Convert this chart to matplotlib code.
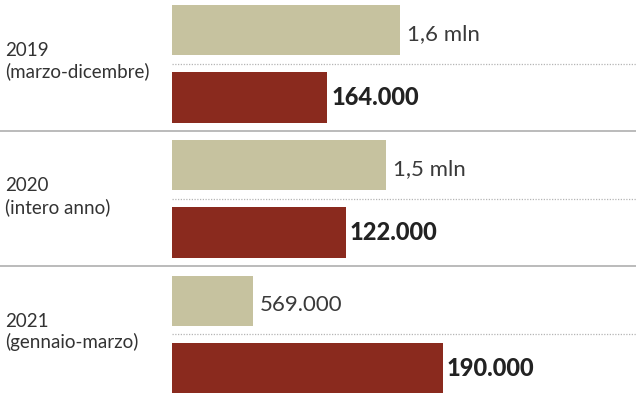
import matplotlib
matplotlib.use('Agg')
import matplotlib.pyplot as plt
from matplotlib.transforms import blended_transform_factory

periods = ["2019", "2020", "2021"]
spans = ["(marzo-dicembre)", "(intero anno)", "(gennaio-marzo)"]
beige_values = [1.6, 1.5, 0.569]          # milioni
beige_labels = ["1,6 mln", "1,5 mln", "569.000"]
# the red bars are not drawn to the same scale as their labels in the source,
# so keep the drawn lengths (same units as beige) next to the printed values
red_values = [1.09, 1.22, 1.90]
red_labels = ["164.000", "122.000", "190.000"]

BEIGE = "#c6c29f"
RED = "#8a2a1e"

plt.rcParams['font.family'] = ['Lato', 'DejaVu Sans']

fig = plt.figure(figsize=(6.36, 3.93), dpi=100)
ax = fig.add_axes([0, 0, 1, 1])
px = 142.5  # pixels per unit on x
ax.set_xlim(-172 / px, 464 / px)
ax.set_ylim(393, 0)
ax.axis('off')

pitch = 135.3
beige_y = [30 + pitch * i for i in range(3)]
red_y = [97.5 + pitch * i for i in range(3)]
dot_y = [63.5 + pitch * i for i in range(3)]

ax.barh(beige_y, beige_values, height=50, color=BEIGE)
ax.barh(red_y, red_values, height=51, color=RED)

tr = blended_transform_factory(fig.transFigure, ax.transData)
for i in range(3):
    ax.plot([0, 464 / px], [dot_y[i], dot_y[i]], color="#b5b5b5", lw=0.9,
            ls=(0, (1, 1.2)))
    if i < 2:
        y = 131 + pitch * i
        ax.plot([-172 / px, 464 / px], [y, y], color="#a8a8a8", lw=1.1)

    ax.annotate(beige_labels[i], (beige_values[i], beige_y[i] + 4),
                xytext=(5, 0), textcoords='offset points', va='center',
                ha='left', fontsize=16, color="#3a3a3a")
    ax.annotate(red_labels[i], (red_values[i], red_y[i]),
                xytext=(3, 0), textcoords='offset points', va='center',
                ha='left', fontsize=17, fontweight='black', color="#222222")

    ax.text(5 / 636, dot_y[i] - 13, periods[i], transform=tr, va='center',
            ha='left', fontsize=13.5, color="#333333")
    ax.text(5 / 636, dot_y[i] + 8, spans[i], transform=tr, va='center',
            ha='left', fontsize=13.5, color="#333333")

plt.savefig('out.png', dpi=100)
